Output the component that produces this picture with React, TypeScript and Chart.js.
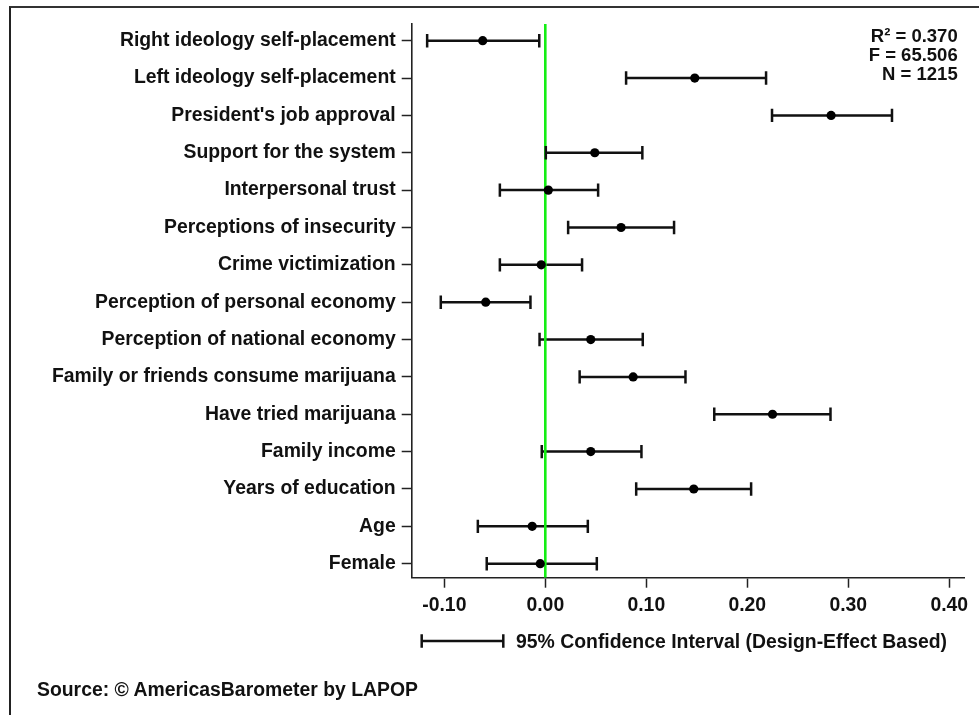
import React, { useEffect, useRef } from 'react';
import { Chart, registerables } from 'chart.js';

Chart.register(...registerables);

// ---------- data ----------
const CATEGORIES = [
  'Right ideology self-placement',
  'Left ideology self-placement',
  "President's job approval",
  'Support for the system',
  'Interpersonal trust',
  'Perceptions of insecurity',
  'Crime victimization',
  'Perception of personal economy',
  'Perception of national economy',
  'Family or friends consume marijuana',
  'Have tried marijuana',
  'Family income',
  'Years of education',
  'Age',
  'Female',
];

const ESTIMATE = [
  -0.062, 0.148, 0.283, 0.049, 0.003, 0.075, -0.004, -0.059, 0.045, 0.087, 0.225, 0.045, 0.147, -0.013, -0.005,
];
const LOWER = [
  -0.117, 0.08, 0.2245, 0.0005, -0.045, 0.0226, -0.045, -0.1035, -0.0057, 0.034, 0.1673, -0.0035, 0.09, -0.0668, -0.058,
];
const UPPER = [
  -0.006, 0.2186, 0.3433, 0.0961, 0.0523, 0.1275, 0.0364, -0.0147, 0.0965, 0.1388, 0.2824, 0.0952, 0.2038, 0.0421, 0.051,
];

const X_TICKS = [-0.1, 0, 0.1, 0.2, 0.3, 0.4];
const X_MIN = -0.1323;
const X_MAX = 0.4146;
const Y_MIN = -0.447;
const Y_MAX = 14.375;

const STATS = ['R\u00B2 = 0.370', 'F = 65.506', 'N = 1215'];
const LEGEND_TEXT = '95% Confidence Interval (Design-Effect Based)';
const SOURCE_TEXT = 'Source: \u00A9 AmericasBarometer by LAPOP';

// ---------- styles ----------
const INK = '#111111';
const AXIS = '#222222';
const GREEN = '#14ee14';
const LABEL_FONT = "'Liberation Sans', Arial, sans-serif";

const legendWhisker = {
  id: 'legendWhisker',
  afterDraw(chart: any) {
    const ctx = chart.ctx;
    const y = 641;
    const x1 = 421.7;
    const x2 = 503.3;
    ctx.save();
    ctx.strokeStyle = INK;
    ctx.lineWidth = 2.5;
    ctx.beginPath();
    ctx.moveTo(x1, y);
    ctx.lineTo(x2, y);
    ctx.moveTo(x1, y - 6.7);
    ctx.lineTo(x1, y + 6.7);
    ctx.moveTo(x2, y - 6.7);
    ctx.lineTo(x2, y + 6.7);
    ctx.stroke();
    ctx.restore();
  },
};

export default function App() {
  const ref = useRef<HTMLCanvasElement>(null);

  useEffect(() => {
    const canvas = ref.current;
    if (!canvas) return;

    const whiskerData: any[] = [];
    CATEGORIES.forEach((_, i) => {
      whiskerData.push({ x: LOWER[i], y: i });
      whiskerData.push({ x: UPPER[i], y: i });
      whiskerData.push({ x: NaN, y: NaN });
    });
    const capData: any[] = [];
    CATEGORIES.forEach((_, i) => {
      capData.push({ x: LOWER[i], y: i });
      capData.push({ x: UPPER[i], y: i });
    });

    const chart = new Chart(canvas, {
      type: 'scatter',
      data: {
        datasets: [
          {
            label: 'Estimate',
            data: CATEGORIES.map((_, i) => ({ x: ESTIMATE[i], y: i })),
            pointRadius: 4.6,
            pointBackgroundColor: '#000000',
            pointBorderWidth: 0,
            showLine: false,
            order: 0,
          },
          {
            label: 'Caps',
            data: capData,
            pointStyle: 'line',
            rotation: 90,
            pointRadius: 6.7,
            pointBorderColor: INK,
            pointBorderWidth: 2.5,
            showLine: false,
            order: 1,
          },
          {
            label: 'Zero',
            data: [
              { x: 0, y: Y_MIN },
              { x: 0, y: Y_MAX },
            ],
            showLine: true,
            borderColor: GREEN,
            borderWidth: 2.6,
            pointRadius: 0,
            order: 2,
          },
          {
            label: 'CI',
            data: whiskerData,
            showLine: true,
            spanGaps: false,
            borderColor: INK,
            borderWidth: 2.5,
            pointRadius: 0,
            order: 3,
          },
        ] as any,
      },
      options: {
        responsive: false,
        animation: false,
        events: [],
        layout: { padding: { top: 24, right: 15, left: 0, bottom: 0 } },
        plugins: {
          legend: { display: false },
          tooltip: { enabled: false },
        },
        scales: {
          x: {
            type: 'linear',
            min: X_MIN,
            max: X_MAX,
            afterBuildTicks: (s: any) => {
              s.ticks = X_TICKS.map((v) => ({ value: v }));
            },
            afterFit: (s: any) => {
              s.height = 137.3;
            },
            ticks: {
              callback: (v: any) => Number(v).toFixed(2),
              font: { family: LABEL_FONT, size: 19.4, weight: 'bold' },
              color: INK,
              padding: 6,
              autoSkip: false,
              maxRotation: 0,
              minRotation: 0,
            },
            grid: {
              drawOnChartArea: false,
              drawTicks: true,
              tickLength: 10,
              tickWidth: 1.5,
              tickColor: AXIS,
            },
            border: { display: true, color: AXIS, width: 1.6 },
          },
          y: {
            type: 'linear',
            reverse: true,
            min: Y_MIN,
            max: Y_MAX,
            afterBuildTicks: (s: any) => {
              s.ticks = CATEGORIES.map((_, i) => ({ value: i }));
            },
            afterFit: (s: any) => {
              s.width = 411.7;
            },
            ticks: {
              callback: (v: any) => CATEGORIES[Math.round(Number(v))] ?? '',
              font: { family: LABEL_FONT, size: 19.4, weight: 'bold' },
              color: INK,
              padding: 6,
              autoSkip: false,
            },
            grid: {
              drawOnChartArea: false,
              drawTicks: true,
              tickLength: 10,
              tickWidth: 1.5,
              tickColor: AXIS,
            },
            border: { display: true, color: AXIS, width: 1.6 },
          },
        },
      } as any,
      plugins: [legendWhisker],
    });

    return () => chart.destroy();
  }, []);

  return (
    <div
      style={{
        position: 'fixed',
        left: 0,
        top: 0,
        width: 979,
        height: 715,
        background: '#ffffff',
        overflow: 'hidden',
      }}
    >
      <canvas ref={ref} width={979} height={715} style={{ display: 'block', position: 'absolute', left: 0, top: 0 }} />
      <div
        style={{
          position: 'absolute',
          left: 9,
          top: 6,
          width: 980,
          height: 720,
          borderLeft: '2.5px solid #222',
          borderTop: '2px solid #333',
          boxSizing: 'border-box',
          pointerEvents: 'none',
        }}
      />
      <div
        style={{
          position: 'absolute',
          left: 700,
          top: 26,
          width: 257.7,
          textAlign: 'right',
          fontFamily: LABEL_FONT,
          fontWeight: 'bold',
          fontSize: 18.5,
          lineHeight: '19px',
          color: INK,
          whiteSpace: 'nowrap',
        }}
      >
        {STATS.map((s) => (
          <div key={s}>{s}</div>
        ))}
      </div>
      <div
        style={{
          position: 'absolute',
          left: 516,
          top: 632,
          fontFamily: LABEL_FONT,
          fontWeight: 'bold',
          fontSize: 19.4,
          lineHeight: '19px',
          color: INK,
          whiteSpace: 'nowrap',
        }}
      >
        {LEGEND_TEXT}
      </div>
      <div
        style={{
          position: 'absolute',
          left: 37,
          top: 680,
          fontFamily: LABEL_FONT,
          fontWeight: 'bold',
          fontSize: 19.4,
          lineHeight: '19px',
          color: INK,
          whiteSpace: 'nowrap',
        }}
      >
        {SOURCE_TEXT}
      </div>
    </div>
  );
}
